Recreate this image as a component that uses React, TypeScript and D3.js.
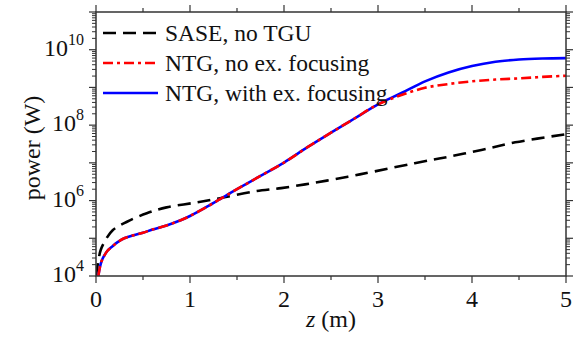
import React from 'react';
import * as d3 from 'd3';

// z positions (m) and power (W)
const saseZ = [0, 0.03, 0.05, 0.1, 0.18, 0.33, 0.54, 0.75, 1.04, 1.32, 1.68, 1.97, 2.32, 2.68, 2.96, 3.39, 3.75, 4.1, 4.46, 5.0];
const saseP = [1e4, 3.0e4, 4.9e4, 8.9e4, 1.66e5, 2.75e5, 4.6e5, 6.6e5, 8.7e5, 1.15e6, 1.74e6, 2.14e6, 2.95e6, 4.3e6, 5.9e6, 9.8e6, 1.45e7, 2.2e7, 3.5e7, 5.75e7];

// both NTG cases share the same start up to z ~ 3 m
const ntgZ = [0.025, 0.04, 0.06, 0.08, 0.12, 0.17, 0.23, 0.3, 0.4, 0.5, 0.6, 0.75, 0.9, 1.0, 1.15, 1.3, 1.5, 1.75, 2.0, 2.25, 2.5, 2.75, 3.0];
const ntgP = [1.0e4, 1.66e4, 2.5e4, 3.2e4, 4.6e4, 6.0e4, 7.9e4, 1.0e5, 1.2e5, 1.41e5, 1.7e5, 2.19e5, 3.0e5, 3.9e5, 6.2e5, 1.02e6, 2.0e6, 4.5e6, 1.02e7, 2.6e7, 6.3e7, 1.5e8, 3.55e8];

const tailZ = [3.25, 3.5, 3.75, 4.0, 4.25, 4.5, 4.75, 5.0];
const noFocTailP = [6.3e8, 9.8e8, 1.23e9, 1.45e9, 1.62e9, 1.74e9, 1.9e9, 2.04e9];
const withFocTailP = [7.1e8, 1.45e9, 2.5e9, 3.7e9, 4.8e9, 5.5e9, 5.85e9, 6.0e9];

const xTickLabels = [0, 1, 2, 3, 4, 5];
const yLabelExps = [4, 6, 8, 10];
const legendNames = ['SASE, no TGU', 'NTG, no ex. focusing', 'NTG, with ex. focusing'];

const W = 584;
const H = 339;
const margin = { top: 12, right: 18, bottom: 63, left: 96 };
const FONT = 'Liberation Serif';
const AXIS = '#333';

type Pt = [number, number];

export default function App() {
  const x = d3.scaleLinear().domain([0, 5]).range([margin.left, W - margin.right]);
  const y = d3.scaleLog().domain([1e4, 1e11]).range([H - margin.bottom, margin.top]);
  const [x0, x1] = x.range();
  const [y0, y1] = y.range();

  const line = d3.line<Pt>()
    .x((d) => x(d[0]))
    .y((d) => y(d[1]))
    .curve(d3.curveCatmullRom.alpha(0.5));

  const zip = (zs: number[], ps: number[]): Pt[] => zs.map((z, i) => [z, ps[i]]);

  const series = [
    { name: legendNames[0], pts: zip(saseZ, saseP), color: '#000', dash: '13,7' },
    { name: legendNames[2], pts: zip(ntgZ, ntgP).concat(zip(tailZ, withFocTailP)), color: '#0000ff', dash: '' },
    { name: legendNames[1], pts: zip(ntgZ, ntgP).concat(zip(tailZ, noFocTailP)), color: '#ff0000', dash: '10,4,3,4' },
  ];
  const legend = [series[0], series[2], series[1]];

  // ticks: major every decade, minor 2..9
  const yMajor: number[] = [];
  const yMinor: number[] = [];
  for (let e = 4; e <= 11; e++) {
    yMajor.push(Math.pow(10, e));
    if (e < 11) for (let k = 2; k <= 9; k++) yMinor.push(k * Math.pow(10, e));
  }
  const xMinor = d3.range(0.5, 5, 1);

  return (
    <svg width={W} height={H} style={{ position: 'absolute', left: 0, top: 0, background: '#fff' }}>
      <defs>
        <clipPath id="plot">
          <rect x={x0} y={y1} width={x1 - x0} height={y0 - y1} />
        </clipPath>
      </defs>

      <g clipPath="url(#plot)">
        {series.map((s) => (
          <path key={s.name} d={line(s.pts) || ''} fill="none" stroke={s.color}
            strokeWidth={2.6} strokeDasharray={s.dash || undefined} />
        ))}
      </g>

      {/* frame */}
      <rect x={x0} y={y1} width={x1 - x0} height={y0 - y1} fill="none" stroke={AXIS} strokeWidth={1.5} />

      {/* x ticks, outward on bottom and top */}
      {xTickLabels.map((t) => (
        <g key={'xt' + t}>
          <line x1={x(t)} x2={x(t)} y1={y0} y2={y0 + 7} stroke={AXIS} strokeWidth={1.2} />
          <line x1={x(t)} x2={x(t)} y1={y1} y2={y1 - 7} stroke={AXIS} strokeWidth={1.2} />
          <text x={x(t)} y={y0 + 31} textAnchor="middle" fontSize={24} fill="#111" fontFamily={FONT}>{t}</text>
        </g>
      ))}
      {xMinor.map((t) => (
        <g key={'xm' + t}>
          <line x1={x(t)} x2={x(t)} y1={y0} y2={y0 + 4} stroke={AXIS} strokeWidth={1.2} />
          <line x1={x(t)} x2={x(t)} y1={y1} y2={y1 - 4} stroke={AXIS} strokeWidth={1.2} />
        </g>
      ))}

      {/* y ticks, outward on left and right */}
      {yMajor.map((v) => (
        <g key={'ym' + v}>
          <line x1={x0} x2={x0 - 7} y1={y(v)} y2={y(v)} stroke={AXIS} strokeWidth={1.2} />
          <line x1={x1} x2={x1 + 7} y1={y(v)} y2={y(v)} stroke={AXIS} strokeWidth={1.2} />
        </g>
      ))}
      {yMinor.map((v) => (
        <g key={'yn' + v}>
          <line x1={x0} x2={x0 - 4} y1={y(v)} y2={y(v)} stroke={AXIS} strokeWidth={1} />
          <line x1={x1} x2={x1 + 4} y1={y(v)} y2={y(v)} stroke={AXIS} strokeWidth={1} />
        </g>
      ))}
      {yLabelExps.map((e) => (
        <text key={'yl' + e} x={x0 - 12} y={y(Math.pow(10, e)) + 6} textAnchor="end" fontSize={24} fill="#111" fontFamily={FONT}>
          10<tspan fontSize={16} dy={-11}>{e}</tspan>
        </text>
      ))}

      {/* axis titles */}
      <text x={(x0 + x1) / 2} y={327} textAnchor="middle" fontSize={24} fill="#111" fontFamily={FONT}>
        <tspan fontStyle="italic">z</tspan> (m)
      </text>
      <text transform={`translate(40,148) rotate(-90)`} textAnchor="middle" fontSize={24} fill="#111" fontFamily={FONT}>power (W)</text>

      {/* legend */}
      {legend.map((s, i) => (
        <g key={'lg' + i} transform={`translate(0,${33 + i * 30})`}>
          <line x1={103} x2={158} y1={0} y2={0} stroke={s.color} strokeWidth={2.6} strokeDasharray={s.dash || undefined} />
          <text x={165} y={8} fontSize={23.5} fill="#111" fontFamily={FONT}>{s.name}</text>
        </g>
      ))}
    </svg>
  );
}
